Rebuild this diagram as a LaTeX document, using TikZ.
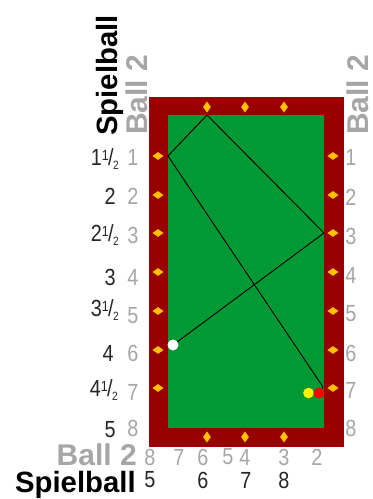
\documentclass[tikz,border=0pt]{standalone}
\usepackage{fontspec}
\setmainfont{Liberation Sans}
\newfontfamily\numfont[FakeStretch=0.85]{Liberation Sans}
\usepackage{xcolor}
\usetikzlibrary{
	positioning,
	shapes.geometric
}
\definecolor{railred}{HTML}{990000}
\definecolor{clothgreen}{HTML}{009933}
\definecolor{markyellow}{HTML}{FFC000}
\definecolor{labelgray}{HTML}{A6A6A6}
\newcommand{\halfof}[1]{#1{\fontsize{11}{11}\selectfont\raisebox{4pt}{1}}\kern-0.5pt/\kern-0.5pt{\fontsize{9}{9}\selectfont\raisebox{-3pt}{2}}}

\begin{document}
\begin{tikzpicture}[
		x=0.75pt,
		y=-0.75pt,
		rail/.style={
			fill=railred,
			minimum width=146.25pt,
			minimum height=262.5pt,
			inner sep=0pt
		},
		cloth/.style={
			fill=clothgreen,
			minimum width=117pt,
			minimum height=234.75pt,
			inner sep=0pt
		},
		sidemark/.style={
			diamond,
			fill=markyellow,
			minimum width=8.5pt,
			minimum height=6pt,
			inner sep=0pt
		},
		endmark/.style={
			diamond,
			fill=markyellow,
			minimum width=6pt,
			minimum height=8.5pt,
			inner sep=0pt
		},
		ball/.style={
			circle,
			minimum size=8pt,
			inner sep=0pt
		},
		pathline/.style={
			draw=black,
			line width=0.7pt
		},
		graynum/.style={
			text=labelgray,
			font=\numfont\fontsize{17.5}{17.5}\selectfont,
			inner sep=0pt
		},
		blacknum/.style={
			text=black!85,
			font=\numfont\fontsize{17.5}{17.5}\selectfont,
			inner sep=0pt
		},
		graytitle/.style={
			text=labelgray,
			font=\fontsize{22.5}{22.5}\selectfont\bfseries,
			inner sep=0pt
		},
		blacktitle/.style={
			text=black,
			font=\fontsize{22}{22}\selectfont\bfseries,
			inner sep=0pt
		}
		]
		\useasboundingbox (0,0) rectangle (373,499);
		
		% Table
		\node[rail] (table) at (246.5,272) {};
		\node[cloth] (cloth) at (246,271.5) {};
		
		% Marks on the long rails
		\foreach \y in {156,195,233,272,311,350,388} {
			\node[sidemark] at (158,\y) {};
			\node[sidemark] at (333,\y) {};
		}
		
		% Marks on the short rails
		\foreach \x in {207,245,284} {
			\node[endmark] at (\x,107) {};
			\node[endmark] at (\x,437) {};
		}
		
		% Balls
		\coordinate (hitleft) at (168,156);
		\coordinate (hittop) at (207,115);
		\coordinate (hitright) at (324,233);
		\coordinate (hitlow) at (323,387);
		\node[ball,fill=yellow] (yellowball) at (308.5,393) {};
		\node[ball,fill=red] (redball) at (319,393) {};
		\node[ball,fill=white] (whiteball) at (173,345) {};
		
		% Ball path
		\draw[pathline] (whiteball.center) -- (hitright) -- (hittop) -- (hitleft) -- (hitlow) -- (redball.center);
		\node[ball,fill=red] at (redball) {};
		\node[ball,fill=white] at (whiteball) {};
		
		% Numbers on the left
		\foreach \y/\n in {157/1,196/2,235/3,277/4,316/5,353/6,392/7,428/8}
		\node[graynum] (left\n) at (133,\y) {\n};
		\node[blacknum,anchor=east] (first) at (119,159) {\halfof{1}};
		\node[blacknum,anchor=east] (second) at (116,196) {2};
		\node[blacknum,anchor=east] (secondh) at (119,235) {\halfof{2}};
		\node[blacknum,anchor=east] (third) at (116,277) {3};
		\node[blacknum,anchor=east] (thirdh) at (119,310) {\halfof{3}};
		\node[blacknum,anchor=east] (fourth) at (114,353) {4};
		\node[blacknum,anchor=east] (fourthh) at (118,390) {\halfof{4}};
		\node[blacknum,anchor=east] (fifth) at (116,430) {5};
		
		% Numbers on the right
		\foreach \y/\n in {157/1,197/2,236/3,275/4,314/5,353/6,390/7,428/8}
		\node[graynum] (right\n) at (351,\y) {\n};
		
		% Numbers below
		\foreach \x/\n in {150/8,179/7,203/6,228/5,245/4,284/3,317/2}
		\node[graynum] (low\n) at (\x,457) {\n};
		\foreach \x/\n in {150/5,203/6,246/7,284/8}
		\node[blacknum] (base\n) at (\x,480) {\n};
		
		% Titles
		\node[graytitle,anchor=base east] (ballbelow) at (137,465) {Ball 2};
		\node[blacktitle,anchor=base east] (spielbelow) at (136,492.5) {Spielball};
		\node[blacktitle,rotate=90,anchor=base west] (spielleft) at (117,136) {Spielball};
		\node[graytitle,rotate=90,anchor=base west] (ballleft) at (147,135) {Ball 2};
		\node[graytitle,rotate=90,anchor=base west] (ballright) at (368,135) {Ball 2};
		
	\end{tikzpicture}
\end{document}
